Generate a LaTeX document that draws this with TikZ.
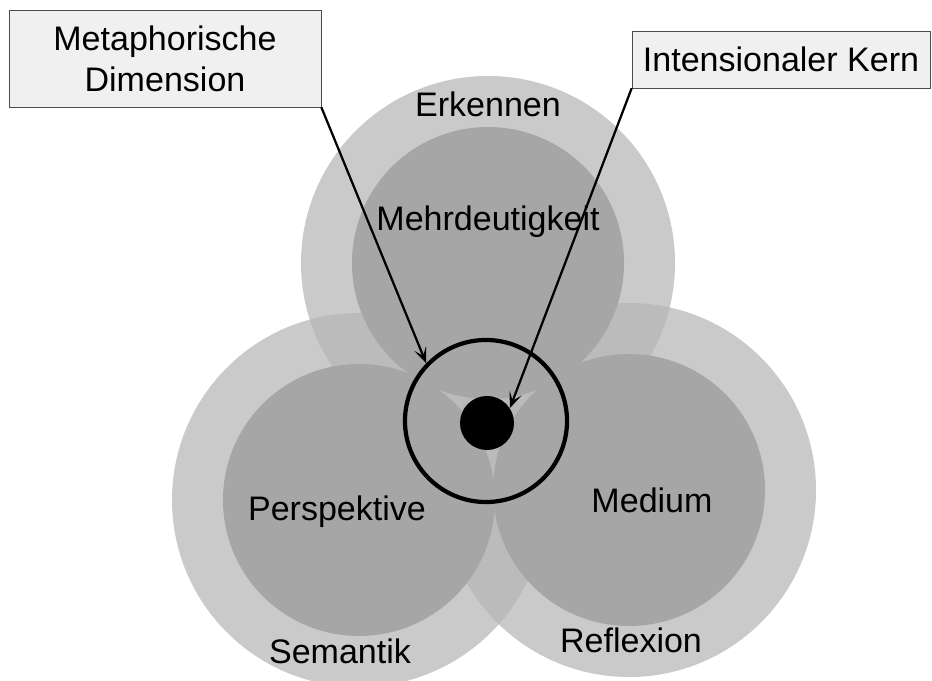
\documentclass[tikz,border=0pt]{standalone}
\usepackage{fontspec}
\setmainfont{Liberation Sans}
\usetikzlibrary{arrows.meta}

\begin{document}
\begin{tikzpicture}[
		x=0.025cm, y=-0.025cm,
		outer/.style={fill=black!29, opacity=0.72},
		inner/.style={fill=black!35},
		word/.style={font=\fontsize{24.2}{29}\selectfont},
		callout/.style={rectangle, draw=black!70, fill=black!6, align=center, font=\fontsize{24.2}{29}\selectfont},
		pointer/.style={-{Stealth[length=4mm, width=3.2mm, inset=2mm]}, line width=1.6pt}
	]
	\useasboundingbox (0,0) rectangle (932,681);

	% the three fields
	\coordinate (top) at (488,263);
	\coordinate (left) at (359,500);
	\coordinate (right) at (629,490);
	\foreach \c in {top,left,right}
		\fill[outer] (\c) circle[radius=187];
	\foreach \c in {top,left,right}
		\fill[inner] (\c) circle[radius=136];

	% core
	\node[circle, draw, line width=3pt, minimum size=4.05cm] (ring) at (486,421) {};
	\node[circle, fill=black, minimum size=1.35cm, inner sep=0pt] (kernel) at (487,423) {};

	% labels
	\node[word] (erkennen) at (488,104) {Erkennen};
	\node[word] (mehrdeutig) at (488,222) {Mehrdeutigkeit};
	\node[word] (perspektive) at (337,512) {Perspektive};
	\node[word] (semantik) at (340,651) {Semantik};
	\node[word] (medium) at (652,500) {Medium};
	\node[word] (reflexion) at (631,640) {Reflexion};

	% callouts
	\node[callout, minimum width=7.8cm, minimum height=2.42cm] (metadim) at (165,58.5) {Metaphorische\\Dimension};
	\node[callout, minimum width=7.45cm, minimum height=1.42cm] (intkern) at (781,59.5) {Intensionaler Kern};

	\draw[pointer] (metadim.south east) -- (ring.136);
	\draw[pointer] (intkern.south west) -- (kernel.33);
\end{tikzpicture}
\end{document}
